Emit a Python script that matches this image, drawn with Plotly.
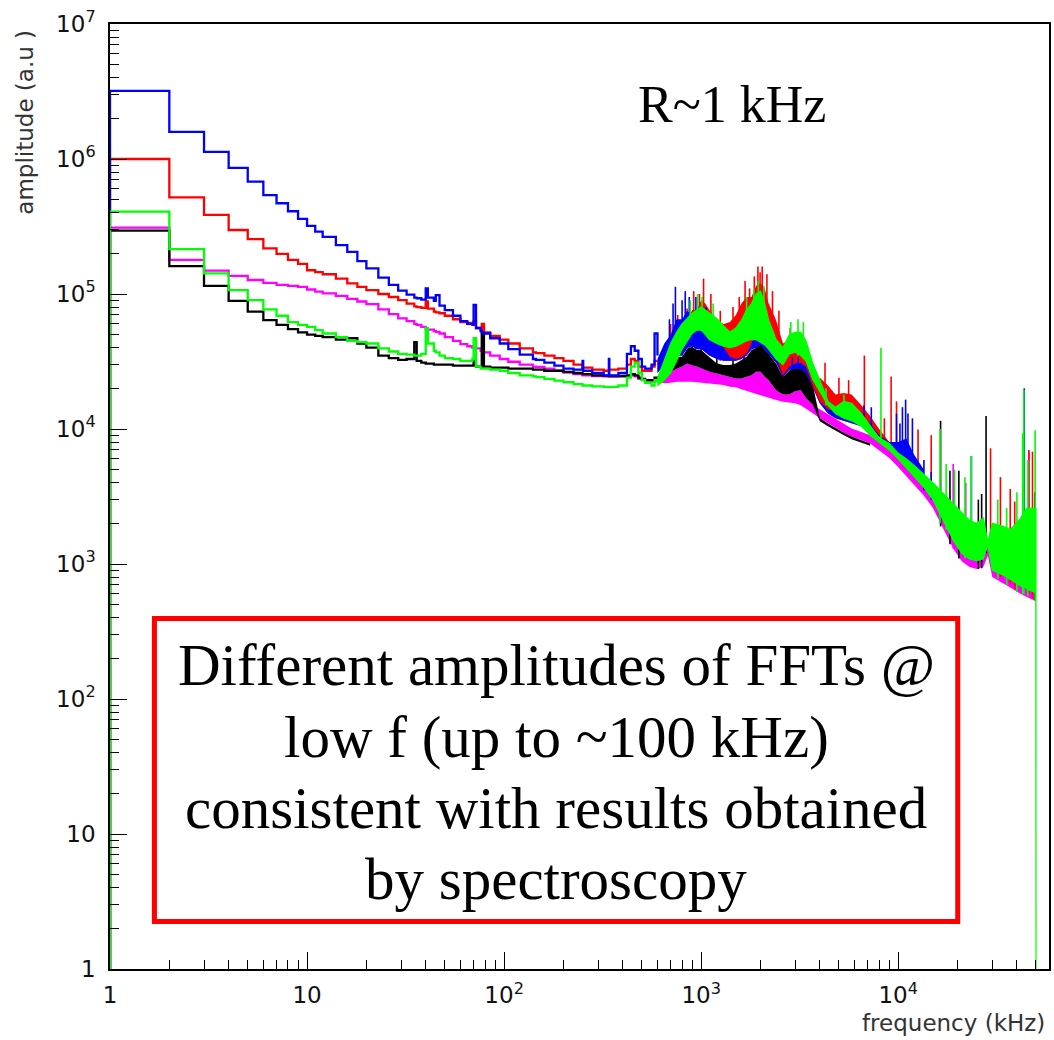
import plotly.graph_objects as go

# ---------------- low-frequency part: 1 kHz histogram bins (lower edges, kHz) ----------------
freq_low = [
    1, 2, 3, 4, 5, 6, 7, 8, 9, 10,
    11, 12, 14, 16, 18, 20, 23, 26, 29, 32,
    35, 36, 38, 40, 41, 44, 45, 47, 50, 55,
    60, 65, 69, 70, 72, 76, 77, 79, 85, 95,
    105, 120, 140, 145, 160, 180, 200, 225, 250, 252,
    280, 320, 340, 342, 380, 420, 440, 460, 480, 500,
    520, 560, 580, 600,
]
blue_low = [
    3.2e6, 1.59e6, 1.13e6, 8.6e5, 6.8e5, 5.4e5, 4.7e5, 4.1e5, 3.6e5, 3.2e5,
    2.9e5, 2.65e5, 2.3e5, 2.05e5, 1.75e5, 1.55e5, 1.32e5, 1.17e5, 1.06e5, 9.9e4,
    9.4e4, 9.3e4, 9.1e4, 1.1e5, 9.4e4, 8.9e4, 9.8e4, 8.2e4, 7.6e4, 6.9e4,
    6.3e4, 6.0e4, 5.9e4, 8.3e4, 5.6e4, 5.3e4, 5.2e4, 5.1e4, 4.7e4, 4.3e4,
    3.9e4, 3.55e4, 3.3e4, 3.25e4, 3.1e4, 2.95e4, 2.8e4, 2.75e4, 3.2e4, 2.7e4,
    2.6e4, 2.5e4, 3.3e4, 2.5e4, 2.6e4, 3.6e4, 4.1e4, 3.8e4, 3.3e4, 2.9e4,
    2.8e4, 3.0e4, 5.1e4, 3.5e4,
]
red_low = [
    1.0e6, 5.2e5, 3.85e5, 2.98e5, 2.55e5, 2.18e5, 1.98e5, 1.79e5, 1.67e5, 1.5e5,
    1.45e5, 1.4e5, 1.3e5, 1.2e5, 1.13e5, 1.07e5, 1.0e5, 9.5e4, 9.0e4, 8.5e4,
    8.1e4, 8.0e4, 7.9e4, 8.8e4, 7.8e4, 7.4e4, 7.3e4, 7.2e4, 6.9e4, 6.5e4,
    6.2e4, 6.1e4, 6.0e4, 6.3e4, 5.6e4, 5.4e4, 6.0e4, 5.2e4, 4.9e4, 4.6e4,
    4.3e4, 3.95e4, 3.7e4, 3.65e4, 3.5e4, 3.35e4, 3.2e4, 3.0e4, 2.85e4, 2.85e4,
    2.75e4, 2.7e4, 2.75e4, 2.75e4, 2.8e4, 3.0e4, 3.3e4, 3.2e4, 2.9e4, 2.7e4,
    2.7e4, 2.9e4, 3.2e4, 3.2e4,
]
magenta_low = [
    3.1e5, 1.79e5, 1.49e5, 1.36e5, 1.27e5, 1.21e5, 1.17e5, 1.15e5, 1.13e5, 1.08e5,
    1.04e5, 1.01e5, 9.7e4, 9.2e4, 8.8e4, 8.4e4, 7.7e4, 7.1e4, 6.6e4, 6.3e4,
    6.0e4, 5.9e4, 5.7e4, 5.5e4, 5.45e4, 5.3e4, 5.25e4, 5.1e4, 4.8e4, 4.5e4,
    4.25e4, 4.1e4, 4.0e4, 4.0e4, 3.95e4, 3.8e4, 3.8e4, 3.7e4, 3.5e4, 3.3e4,
    3.15e4, 3.0e4, 2.9e4, 2.88e4, 2.8e4, 2.7e4, 2.62e4, 2.55e4, 2.5e4, 2.5e4,
    2.47e4, 2.45e4, 2.44e4, 2.44e4, 2.45e4, 2.45e4, 2.5e4, 2.45e4, 2.35e4, 2.3e4,
    2.25e4, 2.25e4, 2.3e4, 2.25e4,
]
black_low = [
    2.95e5, 1.61e5, 1.15e5, 8.9e4, 7.4e4, 6.4e4, 5.9e4, 5.5e4, 5.2e4, 5.0e4,
    4.9e4, 4.8e4, 4.6e4, 4.7e4, 4.3e4, 4.0e4, 3.5e4, 3.35e4, 3.25e4, 3.3e4,
    4.4e4, 3.2e4, 3.1e4, 3.05e4, 3.05e4, 3.0e4, 3.0e4, 3.0e4, 3.0e4, 2.95e4,
    2.95e4, 2.95e4, 2.95e4, 3.2e4, 2.9e4, 2.9e4, 5.6e4, 2.9e4, 2.85e4, 2.85e4,
    2.8e4, 2.8e4, 2.75e4, 2.75e4, 2.7e4, 2.7e4, 2.65e4, 2.6e4, 2.55e4, 2.55e4,
    2.5e4, 2.48e4, 2.47e4, 2.47e4, 2.47e4, 2.5e4, 2.55e4, 2.5e4, 2.4e4, 2.35e4,
    2.3e4, 2.3e4, 2.4e4, 2.35e4,
]
green_low = [
    4.07e5, 2.15e5, 1.42e5, 1.07e5, 9.0e4, 7.7e4, 6.9e4, 6.2e4, 5.9e4, 5.7e4,
    5.4e4, 5.1e4, 4.8e4, 4.5e4, 4.4e4, 4.3e4, 3.95e4, 3.75e4, 3.6e4, 3.55e4,
    3.5e4, 3.5e4, 3.6e4, 5.6e4, 4.3e4, 3.8e4, 3.7e4, 3.5e4, 3.35e4, 3.3e4,
    3.2e4, 3.2e4, 3.3e4, 4.7e4, 2.9e4, 2.8e4, 2.8e4, 2.8e4, 2.75e4, 2.7e4,
    2.6e4, 2.5e4, 2.45e4, 2.42e4, 2.35e4, 2.28e4, 2.22e4, 2.15e4, 2.1e4, 2.1e4,
    2.07e4, 2.05e4, 2.05e4, 2.05e4, 2.1e4, 2.4e4, 2.9e4, 3.1e4, 2.6e4, 2.3e4,
    2.2e4, 2.1e4, 2.3e4, 2.2e4,
]

# ---------------- dense part: lower / upper envelopes of each spectrum (kHz) ----------------
freq_band = [
    600, 650, 700, 750, 800, 850, 900, 950, 1000, 1050,
    1100, 1200, 1300, 1400, 1500, 1600, 1700, 1800, 1900, 2000,
    2100, 2200, 2400, 2600, 2800, 3000, 3200, 3400, 3700, 4000,
    4400, 4800, 5300, 5800, 6500, 7200, 8000, 9000, 10000, 11000,
    12000, 13500, 15000, 17000, 19000, 21000, 23000, 25000, 27000, 28500,
    30000, 34000, 37000, 41000, 45000, 49900, 50000,
]
magenta_band_lo = [
    2.24e4, 2.18e4, 2.2e4, 2.24e4, 2.24e4, 2.24e4, 2.24e4, 2.24e4, 2.2e4, 2.18e4,
    2.18e4, 2.15e4, 2.12e4, 2.06e4, 2.04e4, 1.97e4, 1.92e4, 1.86e4, 1.82e4, 1.78e4,
    1.74e4, 1.69e4, 1.64e4, 1.59e4, 1.57e4, 1.55e4, 1.5e4, 1.42e4, 1.3e4, 1.2e4,
    1.1e4, 1.02e4, 9.4e3, 8.8e3, 8.3e3, 7.8e3, 7.0e3, 6.1e3, 5.2e3, 4.5e3,
    3.9e3, 3.2e3, 2.6e3, 1.8e3, 1.3e3, 1.05e3, 950, 920, 950, 1.15e3,
    800, 720, 670, 610, 570, 530, 530,
]
magenta_band_hi = [
    2.37e4, 2.5e4, 2.65e4, 2.8e4, 2.9e4, 3.06e4, 2.95e4, 2.9e4, 2.8e4, 2.73e4,
    2.65e4, 2.58e4, 2.5e4, 2.44e4, 2.37e4, 2.37e4, 2.44e4, 2.5e4, 2.65e4, 2.65e4,
    2.44e4, 2.3e4, 1.94e4, 1.8e4, 1.8e4, 1.9e4, 1.94e4, 1.7e4, 1.5e4, 1.4e4,
    1.28e4, 1.18e4, 1.08e4, 1.01e4, 9.5e3, 9.0e3, 8.0e3, 7.0e3, 6.0e3, 5.2e3,
    4.5e3, 3.7e3, 3.0e3, 2.07e3, 1.5e3, 1.2e3, 1.09e3, 1.06e3, 1.09e3, 1.38e3,
    900, 830, 770, 700, 655, 610, 610,
]
black_band_lo = [
    2.37e4, 2.5e4, 2.65e4, 2.8e4, 2.9e4, 3.06e4, 2.95e4, 2.9e4, 2.8e4, 2.73e4,
    2.65e4, 2.58e4, 2.5e4, 2.44e4, 2.37e4, 2.37e4, 2.44e4, 2.5e4, 2.65e4, 2.65e4,
    2.44e4, 2.3e4, 1.94e4, 1.8e4, 1.8e4, 1.9e4, 1.94e4, 1.7e4, 1.5e4, 1.14e4,
    1.05e4, 9.7e3, 9.0e3, 8.4e3, 7.9e3, 7.5e3,
]
black_band_hi = [
    2.44e4, 2.9e4, 3.24e4, 3.43e4, 3.43e4, 3.95e4, 4.07e4, 3.85e4, 3.85e4, 3.63e4,
    3.43e4, 3.06e4, 2.98e4, 2.98e4, 3.06e4, 3.24e4, 3.43e4, 3.85e4, 4.0e4, 4.4e4,
    3.9e4, 3.6e4, 3.06e4, 2.44e4, 2.73e4, 2.98e4, 3.15e4, 2.73e4, 2.06e4, 1.2e4,
    1.1e4, 1.02e4, 9.4e3, 8.8e3, 8.3e3, 7.8e3,
]
red_band_lo = [
    2.6e4, 3.0e4, 3.3e4, 3.5e4, 3.5e4, 4.0e4, 4.1e4, 3.9e4, 3.9e4, 3.7e4,
    3.5e4, 3.3e4, 3.2e4, 3.2e4, 3.2e4, 3.3e4, 3.5e4, 3.9e4, 4.0e4, 4.2e4,
    3.9e4, 3.6e4, 3.1e4, 2.45e4, 2.75e4, 2.8e4, 2.8e4, 2.6e4, 2.0e4, 1.55e4,
    1.3e4, 1.2e4, 1.15e4, 1.1e4, 1.05e4, 9.8e3, 8.8e3, 7.6e3, 6.5e3, 5.6e3,
    4.9e3, 4.0e3,
]
red_band_hi = [
    3.2e4, 4.0e4, 4.8e4, 5.6e4, 6.0e4, 6.4e4, 7.6e4, 7.6e4, 9.0e4, 8.5e4,
    7.6e4, 6.4e4, 6.0e4, 6.2e4, 7.0e4, 8.5e4, 9.5e4, 9.5e4, 1.15e5, 1.2e5,
    1.1e5, 8.5e4, 6.4e4, 4.3e4, 4.6e4, 4.0e4, 3.6e4, 3.2e4, 2.3e4, 2.4e4,
    2.1e4, 1.8e4, 1.85e4, 1.8e4, 1.5e4, 1.25e4, 1.0e4, 8.0e3, 7.0e3, 6.2e3,
    5.4e3, 4.6e3,
]
blue_band_lo = [
    2.6e4, 3.0e4, 3.3e4, 3.5e4, 3.5e4, 4.0e4, 4.1e4, 3.9e4, 3.9e4, 3.7e4,
    3.5e4, 3.3e4, 3.2e4, 3.2e4, 3.2e4, 3.3e4, 3.5e4, 3.9e4, 4.0e4, 4.2e4,
    3.9e4, 3.6e4, 3.1e4, 2.45e4, 2.75e4, 2.8e4, 2.8e4, 2.6e4, 2.0e4, 1.55e4,
    1.3e4, 1.2e4, 1.15e4, 1.1e4, 1.05e4, 9.8e3, 8.8e3, 7.6e3, 6.5e3, 5.6e3,
    4.9e3, 4.0e3,
]
blue_band_hi = [
    3.3e4, 4.3e4, 5.0e4, 6.5e4, 6.5e4, 7.5e4, 7.0e4, 7.2e4, 6.8e4, 6.2e4,
    5.6e4, 4.8e4, 4.0e4, 3.43e4, 3.3e4, 3.4e4, 3.63e4, 4.3e4, 5.2e4, 5.8e4,
    5.0e4, 4.4e4, 3.43e4, 2.5e4, 2.9e4, 3.06e4, 3.1e4, 2.9e4, 2.06e4, 1.6e4,
    1.4e4, 1.35e4, 1.35e4, 1.3e4, 1.25e4, 1.1e4, 9.0e3, 8.0e3, 8.0e3, 8.5e3,
    6.5e3, 5.0e3,
]
green_band_lo = [
    2.1e4, 2.3e4, 2.6e4, 3.2e4, 3.9e4, 4.5e4, 5.1e4, 5.4e4, 5.4e4, 5.0e4,
    4.6e4, 4.3e4, 4.1e4, 4.0e4, 4.1e4, 4.3e4, 4.5e4, 4.6e4, 4.6e4, 4.4e4,
    4.2e4, 3.9e4, 3.3e4, 3.0e4, 3.6e4, 3.7e4, 3.5e4, 3.2e4, 2.3e4, 1.9e4,
    1.5e4, 1.3e4, 1.2e4, 1.15e4, 1.05e4, 9.0e3, 8.0e3, 7.0e3, 6.0e3, 5.2e3,
    4.5e3, 3.7e3, 3.0e3, 2.07e3, 1.5e3, 1.2e3, 1.09e3, 1.06e3, 1.09e3, 1.38e3,
    900, 830, 770, 700, 655, 610, 1.0,
]
green_band_hi = [
    2.37e4, 3.24e4, 4.3e4, 5.2e4, 6.0e4, 6.6e4, 7.2e4, 7.6e4, 8.0e4, 7.6e4,
    7.2e4, 6.6e4, 5.8e4, 5.2e4, 5.6e4, 6.4e4, 7.6e4, 8.5e4, 1.0e5, 1.05e5,
    8.5e4, 6.4e4, 4.6e4, 4.0e4, 5.0e4, 5.2e4, 5.2e4, 4.5e4, 3.0e4, 2.3e4,
    1.6e4, 1.45e4, 1.6e4, 1.55e4, 1.3e4, 1.05e4, 8.6e3, 7.8e3, 6.6e3, 6.0e3,
    5.4e3, 4.6e3, 4.0e3, 3.3e3, 2.8e3, 2.4e3, 2.1e3, 2.0e3, 2.2e3, 1.45e3,
    2.0e3, 1.9e3, 1.8e3, 2.1e3, 2.6e3, 2.6e3, 2.6e3,
]

# ---------------- single lines standing out of the envelopes (kHz, base, top) ----------------
red_spike_freq = [700, 760, 848, 916, 980, 1028, 1120, 1250, 1450, 1560,
                  1670, 1760, 1860, 1940, 1990, 2040, 2155, 2300, 2480, 2830,
                  3300, 4250, 5000, 5600, 6730, 8500, 9200, 9800, 12600, 14700,
                  29400, 33000, 37000, 39000, 46000, 48000]
red_spike_base = [3.3e4, 3.5e4, 4.0e4, 4.1e4, 3.9e4, 3.9e4, 3.5e4, 3.2e4, 3.2e4, 3.3e4,
                  3.5e4, 3.9e4, 4.3e4, 4.6e4, 4.6e4, 4.6e4, 4.3e4, 3.9e4, 3.1e4, 2.75e4,
                  2.8e4, 1.5e4, 1.2e4, 1.15e4, 1.2e4, 7.5e3, 7.0e3, 6.3e3, 4.5e3, 3.2e3,
                  1.2e3, 800, 700, 650, 600, 560]
red_spike_top = [6.0e4, 7.0e4, 7.8e4, 1.05e5, 1.0e5, 1.3e5, 1.0e5, 7.5e4, 8.0e4, 9.5e4,
                 1.25e5, 1.1e5, 1.35e5, 1.6e5, 1.45e5, 1.6e5, 1.4e5, 1.05e5, 7.5e4, 5.6e4,
                 4.3e4, 3.1e4, 2.4e4, 2.3e4, 3.5e4, 1.2e4, 2.45e4, 1.6e4, 9.9e3, 9.0e3,
                 7.2e3, 4.4e3, 3.6e3, 2.9e3, 7.0e3, 6.8e3]

blue_spike_freq = [690, 720, 740, 800, 830, 870, 940, 1060, 1900, 2050,
                   2250, 2900, 3100, 6700, 7300, 9800, 10200, 10500, 10900, 11200,
                   11800, 13500, 14700, 23500, 43600]
blue_spike_base = [3.3e4, 3.3e4, 3.5e4, 3.5e4, 3.8e4, 4.0e4, 3.9e4, 3.7e4, 4.3e4, 4.6e4,
                   3.9e4, 2.75e4, 2.8e4, 1.05e4, 1.0e4, 6.5e3, 6.3e3, 6.0e3, 5.8e3, 5.6e3,
                   5.0e3, 3.5e3, 3.0e3, 1.1e3, 650]
blue_spike_top = [6.5e4, 8.5e4, 1.13e5, 9.0e4, 1.05e5, 9.5e4, 9.5e4, 8.0e4, 6.5e4, 7.0e4,
                  5.5e4, 3.4e4, 3.4e4, 1.5e4, 1.45e4, 1.3e4, 1.1e4, 1.45e4, 1.65e4, 1.3e4,
                  1.2e4, 5.9e3, 4.8e3, 6.3e3, 2.0e4]

black_spike_freq = [900, 1000, 1200, 1450, 1650, 1900, 2000, 2200, 2600, 2900,
                    3100, 16400, 18300, 20300, 25500, 26500, 27900, 49300]
black_spike_base = [3.0e4, 3.0e4, 2.8e4, 2.6e4, 2.8e4, 3.0e4, 3.0e4, 2.8e4, 2.2e4, 2.4e4,
                    2.5e4, 1.9e3, 1.4e3, 1.1e3, 920, 930, 1.2e3, 540]
black_spike_top = [4.6e4, 4.4e4, 3.8e4, 3.6e4, 4.0e4, 5.0e4, 5.6e4, 4.5e4, 3.2e4, 3.4e4,
                   3.6e4, 1.15e4, 4.9e3, 4.9e3, 3.0e3, 3.3e3, 1.25e4, 3.4e3]

magenta_spike_freq = [19000, 22000, 46000]
magenta_spike_base = [1.3e3, 1.0e3, 570]
magenta_spike_top = [5.5e3, 4.0e3, 6.8e3]

green_spike_freq = [880, 960, 1010, 1150, 1700, 1850, 1950, 2080, 2850, 3100,
                    3300, 4300, 5300, 8170, 16300, 17500, 19300, 21800, 23500, 32000,
                    35500, 40000, 42800, 43400, 45500, 49500]
green_spike_base = [5.1e4, 5.4e4, 5.4e4, 4.6e4, 4.5e4, 4.6e4, 4.6e4, 4.2e4, 3.6e4, 3.5e4,
                    3.3e4, 1.5e4, 1.2e4, 8.0e3, 2.0e3, 1.8e3, 1.5e3, 1.1e3, 1.1e3, 780,
                    700, 620, 600, 600, 580, 540]
green_spike_top = [9.0e4, 1.0e5, 9.5e4, 8.5e4, 9.5e4, 1.1e5, 1.25e5, 1.15e5, 6.2e4, 6.5e4,
                   6.2e4, 2.0e4, 1.8e4, 4.0e4, 1.0e4, 5.5e3, 5.0e3, 4.4e3, 6.3e3, 3.0e3,
                   2.6e3, 3.4e3, 9.3e3, 1.95e4, 5.9e3, 9.8e3]

# ---------------- axis labels ----------------
x_tick_vals = [1, 10, 100, 1000, 10000]
x_tick_text = ["1", "10", "10<sup>2</sup>", "10<sup>3</sup>", "10<sup>4</sup>"]
y_tick_vals = [1, 10, 100, 1e3, 1e4, 1e5, 1e6, 1e7]
y_tick_text = ["1", "10", "10<sup>2</sup>", "10<sup>3</sup>", "10<sup>4</sup>",
               "10<sup>5</sup>", "10<sup>6</sup>", "10<sup>7</sup>"]

BLUE, RED, GREEN, MAGENTA, BLACK = "#0000ff", "#ff0000", "#00ff00", "#ff00ff", "#000000"
Y_MIN_EXP, Y_MAX_EXP = 0, 7
X_MIN_EXP, X_MAX_EXP = 0, 4.765
Y_FLOOR = 10 ** Y_MIN_EXP  # empty bins are drawn down to the frame


def step_trace(amp, color):
    # histogram outline starting from the empty bin below the first edge
    x = [freq_low[0]] + list(freq_low)
    y = [Y_FLOOR] + list(amp)
    return go.Scatter(x=x, y=y, mode="lines", hoverinfo="skip", showlegend=False,
                      line=dict(color=color, width=2.3, shape="hv"))


def band_trace(lo, hi, color, width=0.0):
    f = freq_band[:len(hi)]
    x = list(f) + list(f[::-1])
    y = list(hi) + list(lo[::-1])
    return go.Scatter(x=x, y=y, mode="lines", fill="toself", fillcolor=color,
                      hoverinfo="skip", showlegend=False,
                      line=dict(color=color, width=width))


def spike_trace(freq, base, top, color):
    xs, ys = [], []
    for f, b, t in zip(freq, base, top):
        xs += [f, f, None]
        ys += [b, t, None]
    return go.Scatter(x=xs, y=ys, mode="lines", hoverinfo="skip", showlegend=False,
                      line=dict(color=color, width=1.6))


fig = go.Figure()
series = [
    (magenta_low, magenta_band_lo, magenta_band_hi, magenta_spike_freq, magenta_spike_base, magenta_spike_top, MAGENTA, 0.0),
    (black_low, black_band_lo, black_band_hi, black_spike_freq, black_spike_base, black_spike_top, BLACK, 0.0),
    (red_low, red_band_lo, red_band_hi, red_spike_freq, red_spike_base, red_spike_top, RED, 0.0),
    (blue_low, blue_band_lo, blue_band_hi, blue_spike_freq, blue_spike_base, blue_spike_top, BLUE, 0.0),
    (green_low, green_band_lo, green_band_hi, green_spike_freq, green_spike_base, green_spike_top, GREEN, 1.2),
]
for low, blo, bhi, sf, sb, st, col, w in series:
    fig.add_trace(step_trace(low, col))
    fig.add_trace(band_trace(blo, bhi, col, w))
    fig.add_trace(spike_trace(sf, sb, st, col))

tick_font = dict(family="DejaVu Sans", size=23, color="#111111")
axis_common = dict(
    type="log", showgrid=False, zeroline=False,
    showline=True, mirror=True, linecolor="black", linewidth=1.5,
    ticks="inside", tickcolor="black", tickwidth=1.3, ticklen=17,
    tickmode="array", tickfont=tick_font,
    minor=dict(ticks="inside", ticklen=9, tickwidth=1.2, tickcolor="black",
               dtick="D1", showgrid=False),
)
fig.update_xaxes(range=[X_MIN_EXP, X_MAX_EXP], tickvals=x_tick_vals, ticktext=x_tick_text,
                 ticklabelstandoff=5, **axis_common)
fig.update_yaxes(range=[Y_MIN_EXP, Y_MAX_EXP], tickvals=y_tick_vals, ticktext=y_tick_text,
                 ticklabelstandoff=8, **axis_common)

title_font = dict(family="DejaVu Sans", size=23, color="#333333")
serif = "Liberation Serif, Times New Roman, serif"
annotations = [
    dict(text="frequency (kHz)", xref="paper", yref="paper", x=0.998, y=-0.0571,
         xanchor="right", yanchor="middle", showarrow=False, font=title_font),
    dict(text="amplitude (a.u )", xref="paper", yref="paper", x=-0.0903, y=0.9958,
         xanchor="center", yanchor="top", textangle=-90, showarrow=False, font=title_font),
    dict(text="R~1 kHz", xref="paper", yref="paper", x=0.662, y=0.9143,
         xanchor="center", yanchor="middle", showarrow=False,
         font=dict(family=serif, size=52, color="black")),
]
box_lines = ["Different amplitudes of FFTs @", "low f (up to ~100 kHz)",
             "consistent with results obtained", "by spectroscopy"]
box_line_y = [0.3217, 0.2455, 0.1704, 0.0952]
for txt, yy in zip(box_lines, box_line_y):
    annotations.append(dict(text=txt, xref="paper", yref="paper", x=0.475, y=yy,
                            xanchor="center", yanchor="middle", showarrow=False,
                            font=dict(family=serif, size=59, color="black")))

fig.update_layout(
    width=1054, height=1040, autosize=False,
    margin=dict(l=110, r=3, t=24, b=71, pad=0),
    paper_bgcolor="white", plot_bgcolor="white",
    showlegend=False,
    annotations=annotations,
    shapes=[dict(type="rect", xref="paper", yref="paper",
                 x0=0.0473, x1=0.9028, y0=0.0503, y1=0.3709,
                 line=dict(color="#ff0000", width=5), fillcolor="rgba(0,0,0,0)",
                 layer="above")],
)

fig.write_html("out.html")
